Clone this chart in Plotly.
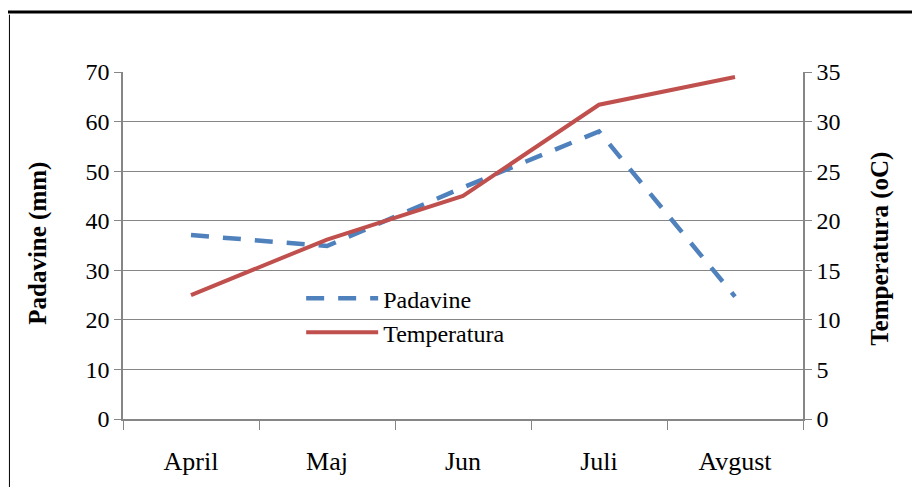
import plotly.graph_objects as go

# mjeseci
months = ["April", "Maj", "Jun", "Juli", "Avgust"]
# padavine (mm)
padavine = [37.1, 34.9, 46.7, 58.0, 24.7]
# temperatura (oC)
temperatura = [12.5, 18.1, 22.5, 31.7, 34.5]

left_ticks = [0, 10, 20, 30, 40, 50, 60, 70]
right_ticks = [0, 5, 10, 15, 20, 25, 30, 35]

BLUE = "#4F81BD"
RED = "#C0504D"
GRID = "#868686"
FONT = "Liberation Serif"

fig = go.Figure()

fig.add_trace(go.Scatter(
    x=months, y=padavine, name="Padavine", mode="lines",
    line=dict(color=BLUE, width=4.5, dash="18px,14px"),
    yaxis="y",
))
fig.add_trace(go.Scatter(
    x=months, y=temperatura, name="Temperatura", mode="lines",
    line=dict(color=RED, width=4),
    yaxis="y2",
))

# stranica ima 8px margine, pa je figura manja
fig.update_layout(
    width=912, height=479,
    margin=dict(l=115, r=117, t=64, b=68),
    paper_bgcolor="white", plot_bgcolor="white",
    font=dict(family=FONT, color="black"),
    showlegend=True,
    legend=dict(
        x=0.262, y=0.412, xanchor="left", yanchor="top",
        bgcolor="rgba(0,0,0,0)", font=dict(family=FONT, size=24),
        itemwidth=72, tracegroupgap=0,
    ),
    xaxis=dict(
        type="category", range=[-0.5, 4.5],
        showline=True, linecolor=GRID, linewidth=1.5,
        ticks="outside", tickson="boundaries", ticklen=9, tickcolor=GRID,
        showgrid=False, tickfont=dict(family=FONT, size=26), ticklabelstandoff=18,
    ),
    yaxis=dict(
        range=[0, 70], tickvals=left_ticks,
        showline=True, linecolor=GRID, linewidth=1.5,
        ticks="outside", ticklen=7, tickcolor=GRID,
        showgrid=True, gridcolor=GRID, gridwidth=1.2,
        tickfont=dict(family=FONT, size=24), zeroline=False,
    ),
    yaxis2=dict(
        range=[0, 35], tickvals=right_ticks, overlaying="y", side="right",
        showline=True, linecolor=GRID, linewidth=1.5,
        ticks="outside", ticklen=7, tickcolor=GRID,
        showgrid=False, tickfont=dict(family=FONT, size=24), zeroline=False,
    ),
)

# naslovi osi
fig.add_annotation(
    text="<b>Padavine (mm)</b>", textangle=-90, showarrow=False,
    xref="paper", yref="paper", x=-0.125, y=0.505,
    xanchor="center", yanchor="middle", font=dict(family=FONT, size=25),
)
fig.add_annotation(
    text="<b>Temperatura (oC)</b>", textangle=-90, showarrow=False,
    xref="paper", yref="paper", x=1.113, y=0.49,
    xanchor="center", yanchor="middle", font=dict(family=FONT, size=25),
)

# okvir
fig.add_shape(type="rect", xref="paper", yref="paper",
              x0=-0.172, x1=1.3, y0=-0.4, y1=1.173,
              line=dict(color="black", width=3), layer="above")
fig.add_shape(type="line", xref="paper", yref="paper",
              x0=-0.167, x1=-0.167, y0=-0.4, y1=1.165,
              line=dict(color="black", width=1), layer="above")

fig.write_html("out.html")
